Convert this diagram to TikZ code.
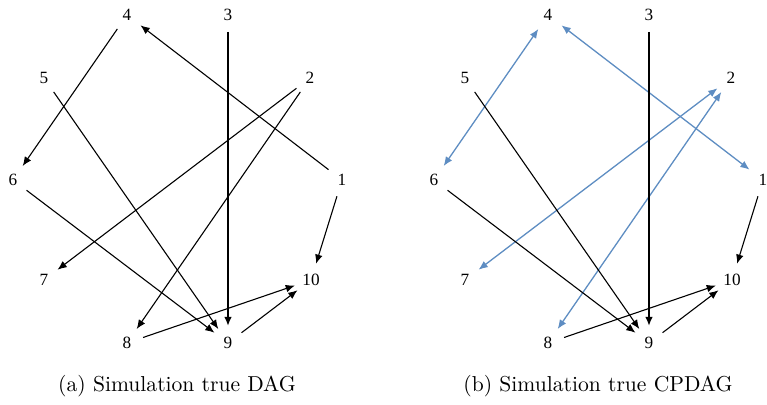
\documentclass[tikz,border=0pt]{standalone}
\usepackage{fontspec}
\newfontfamily\nodefont{Liberation Serif}
\usetikzlibrary{arrows.meta}
\definecolor{edgeblue}{RGB}{94,141,194}
\tikzset{
  vx/.style={circle,inner sep=0pt,outer sep=0pt,minimum size=17pt,font=\nodefont\fontsize{8.6}{10}\selectfont},
  dir/.style={line width=0.55pt,-{Latex[length=4.6pt,width=3.8pt]}},
  thickdir/.style={line width=1.1pt,-{Latex[length=4.6pt,width=3.9pt]}},
  und/.style={edgeblue,line width=0.65pt,{Latex[length=4.6pt,width=3.8pt]}-{Latex[length=4.6pt,width=3.8pt]}},
  captext/.style={font=\fontsize{10.8}{13}\selectfont}
}
\begin{document}
\begin{tikzpicture}[x=0.5pt,y=-0.5pt]
\useasboundingbox (0,0) rectangle (767,405);
% left graph
\begin{scope}
\node[vx] (a4) at (127,15) {4};
\node[vx] (a3) at (228,15) {3};
\node[vx] (a5) at (44,78) {5};
\node[vx] (a2) at (310,78) {2};
\node[vx] (a6) at (13,180) {6};
\node[vx] (a1) at (342,180) {1};
\node[vx] (a7) at (44,280) {7};
\node[vx] (a10) at (311,280) {10};
\node[vx] (a8) at (127,343) {8};
\node[vx] (a9) at (228,343) {9};
\draw[dir] (a1) -- (a4);
\draw[dir] (a4) -- (a6);
\draw[thickdir] (a3) -- (a9);
\draw[dir] (a5) -- (a9);
\draw[dir] (a2) -- (a7);
\draw[dir] (a2) -- (a8);
\draw[dir] (a6) -- (a9);
\draw[dir] (a1) -- (a10);
\draw[dir] (a8) -- (a10);
\draw[dir] (a9) -- (a10);
\node[captext] (capa) at (177,386) {(a) Simulation true DAG};
\end{scope}
% right graph
\begin{scope}[xshift=210.5pt]
\node[vx] (b4) at (127,15) {4};
\node[vx] (b3) at (228,15) {3};
\node[vx] (b5) at (44,78) {5};
\node[vx] (b2) at (310,78) {2};
\node[vx] (b6) at (13,180) {6};
\node[vx] (b1) at (342,180) {1};
\node[vx] (b7) at (44,280) {7};
\node[vx] (b10) at (311,280) {10};
\node[vx] (b8) at (127,343) {8};
\node[vx] (b9) at (228,343) {9};
\draw[und] (b1) -- (b4);
\draw[und] (b4) -- (b6);
\draw[und] (b2) -- (b7);
\draw[und] (b2) -- (b8);
\draw[thickdir] (b3) -- (b9);
\draw[dir] (b5) -- (b9);
\draw[dir] (b6) -- (b9);
\draw[dir] (b1) -- (b10);
\draw[dir] (b8) -- (b10);
\draw[dir] (b9) -- (b10);
\node[captext] (capb) at (177,386) {(b) Simulation true CPDAG};
\end{scope}
\end{tikzpicture}
\end{document}
